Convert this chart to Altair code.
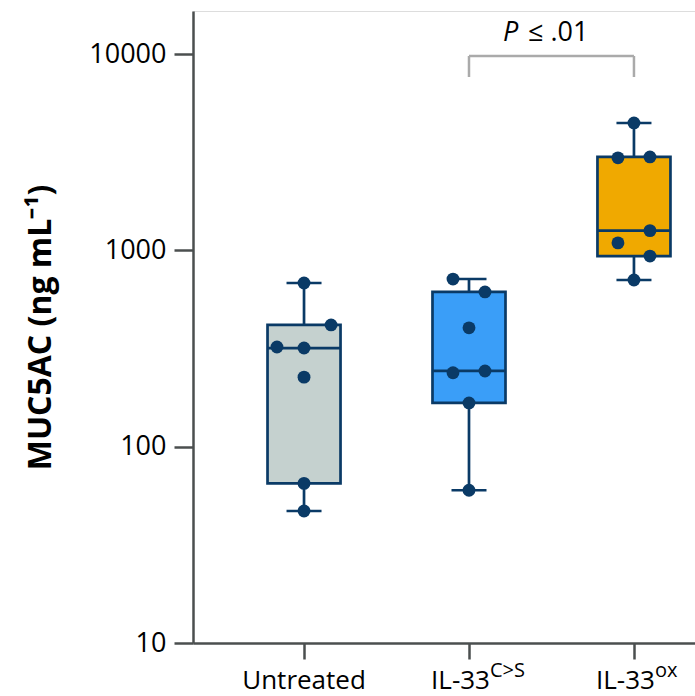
import altair as alt
import numpy as np
import pandas as pd

# ---- data ----
groups = ["Untreated", "IL-33C>S", "IL-33ox"]
untreated = [682, 417, 322, 318, 226, 65, 47]
il33_cs = [714, 614, 403, 238, 243, 167, 60]
il33_ox = [4456, 2960, 2990, 1260, 1091, 935, 706]
# horizontal spread of dots inside each box (fraction of category spacing)
spread_untreated = [0, 0.164, -0.164, 0, 0, 0, 0]
spread_cs = [-0.097, 0.097, 0, -0.097, 0.097, 0, 0]
spread_ox = [0, -0.097, 0.097, 0.097, -0.097, 0.097, 0]

fills = ["#c5d1cf", "#3a9ef8", "#f0a900"]
navy = "#0a3a66"
axis_col = "#4b4f4f"
FONT = "Open Sans"

y_ticks = [10, 100, 1000, 10000]
sig_text_p = "P"
sig_text_rest = "≤ .01"

# ---- build tables ----
values = [untreated, il33_cs, il33_ox]
spreads = [spread_untreated, spread_cs, spread_ox]
pts = []
stats = []
for i, (g, v, s) in enumerate(zip(groups, values, spreads)):
    for val, off in zip(v, s):
        pts.append({"group": g, "idx": i, "off": off, "value": val})
    arr = np.array(v, dtype=float)
    stats.append({
        "group": g, "idx": i,
        "min": arr.min(), "max": arr.max(),
        "q1": np.percentile(arr, 25, method="weibull"),
        "med": np.median(arr),
        "q3": np.percentile(arr, 75, method="weibull"),
    })
pts = pd.DataFrame(pts)
stats = pd.DataFrame(stats)

x_scale = alt.Scale(domain=[-0.673, 2.37], nice=False, zero=False, padding=0)
y_scale = alt.Scale(type="log", domain=[10, 16560], nice=False)
color_scale = alt.Scale(domain=groups, range=fills)

x_axis = alt.Axis(values=[0, 1, 2], labels=False, title=None, grid=False,
                  tickSize=16, tickWidth=2.5, tickColor=axis_col,
                  domainColor=axis_col, domainWidth=2.5)
y_axis = alt.Axis(values=y_ticks, format="d", grid=False, tickSize=19,
                  tickWidth=2.5, tickColor=axis_col, domainColor=axis_col,
                  domainWidth=2.5, labelFont=FONT, labelFontSize=27,
                  labelColor="black", labelPadding=8,
                  title="MUC5AC (ng mL⁻¹)", titleFont=FONT,
                  titleFontSize=32, titleFontWeight="bold", titleColor="black",
                  titleX=-153, titleY=316, titleAngle=270,
                  titleAlign="center", titleBaseline="middle")

base = alt.Chart(stats)

whisk_lo = base.mark_rule(color=navy, strokeWidth=2.7).encode(
    x=alt.X("idx:Q", scale=x_scale, axis=x_axis),
    y=alt.Y("min:Q", scale=y_scale, axis=y_axis),
    y2="q1:Q")
whisk_hi = base.mark_rule(color=navy, strokeWidth=2.7).encode(
    x="idx:Q", y="q3:Q", y2="max:Q")
cap_lo = base.mark_tick(orient="horizontal", size=35, thickness=2.6,
                        color=navy, opacity=1).encode(x="idx:Q", y="min:Q")
cap_hi = base.mark_tick(orient="horizontal", size=35, thickness=2.6,
                        color=navy, opacity=1).encode(x="idx:Q", y="max:Q")
box = base.mark_bar(size=73, stroke=navy, strokeWidth=2.7, opacity=1).encode(
    x="idx:Q", y="q1:Q", y2="q3:Q",
    color=alt.Color("group:N", scale=color_scale, legend=None))
median = base.mark_tick(orient="horizontal", size=73, thickness=2.7,
                        color=navy, opacity=1).encode(x="idx:Q", y="med:Q")

dots = alt.Chart(pts).transform_calculate(
    xpos="datum.idx + datum.off"
).mark_circle(size=165, color=navy, opacity=1).encode(
    x="xpos:Q", y="value:Q")

# significance bracket between group 1 and group 2
bracket = pd.DataFrame({"x1": [1], "x2": [2], "top": [9770], "bottom": [7636]})
br = alt.Chart(bracket)
br_h = br.mark_rule(color="#aaaaaa", strokeWidth=2.5).encode(
    x="x1:Q", x2="x2:Q", y="top:Q")
br_l = br.mark_rule(color="#aaaaaa", strokeWidth=2.5).encode(
    x="x1:Q", y="bottom:Q", y2="top:Q")
br_r = br.mark_rule(color="#aaaaaa", strokeWidth=2.5).encode(
    x="x2:Q", y="bottom:Q", y2="top:Q")

sig = pd.DataFrame({"xp": [1.206], "xr": [1.358], "y": [11650],
                    "p": [sig_text_p], "r": [sig_text_rest]})
sig_p = alt.Chart(sig).mark_text(font=FONT, fontSize=27, fontStyle="italic",
                                 align="left", baseline="alphabetic",
                                 color="black").encode(
    x="xp:Q", y="y:Q", text="p:N")
sig_r = alt.Chart(sig).mark_text(font=FONT, fontSize=27, align="left",
                                 baseline="alphabetic", color="black").encode(
    x="xr:Q", y="y:Q", text="r:N")

# category labels (with superscripts)
lab_main = pd.DataFrame({"idx": [1, 2], "t": ["IL-33", "IL-33"]})
lab_sup = pd.DataFrame({"idx": [1, 2], "t": ["C>S", "ox"]})
lab_plain = pd.DataFrame({"idx": [0], "t": ["Untreated"]})
t_plain = alt.Chart(lab_plain).mark_text(font=FONT, fontSize=26, align="center",
                                         baseline="alphabetic", color="black").encode(
    x="idx:Q", y=alt.value(678), text="t:N")
t_main = alt.Chart(lab_main).mark_text(font=FONT, fontSize=26, align="right",
                                       baseline="alphabetic", color="black",
                                       dx=21).encode(
    x="idx:Q", y=alt.value(678), text="t:N")
t_sup = alt.Chart(lab_sup).mark_text(font=FONT, fontSize=20, align="left",
                                     baseline="alphabetic", color="black",
                                     dx=21).encode(
    x="idx:Q", y=alt.value(666), text="t:N")

chart = alt.layer(
    whisk_lo, whisk_hi, cap_lo, cap_hi, box, median, dots,
    br_h, br_l, br_r, sig_p, sig_r, t_plain, t_main, t_sup
).properties(
    width=502, height=632,
    autosize=alt.AutoSizeParams(type="none"),
    padding={"left": 193, "top": 11, "right": 0, "bottom": 53},
).configure_view(stroke=None).configure(background="white")

chart.save("out.html", embed_options={"renderer": "svg", "actions": False})
